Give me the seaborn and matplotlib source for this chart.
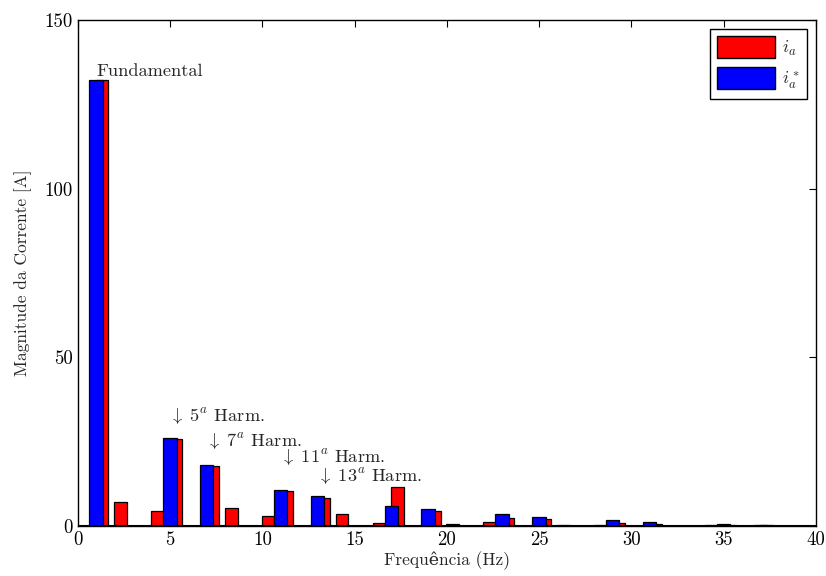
import numpy as np
import pandas as pd
import matplotlib
matplotlib.use("Agg")
import matplotlib.pyplot as plt
import seaborn as sns
from matplotlib.patches import Patch

# Harmonic order (Hz bins) and spectrum magnitudes
harmonics = list(range(1, 40))
ia = [132.1, 7.0, 0.1, 4.3, 25.7, 0.1, 17.7, 5.3, 0.1, 2.9,
      10.5, 0.1, 8.2, 3.5, 0.1, 0.9, 11.5, 0.1, 4.5, 0.6,
      0.1, 1.1, 2.3, 0.1, 2.0, 0.2, 0.1, 0.4, 0.9, 0.1,
      0.5, 0.1, 0.1, 0.2, 0.3, 0.1, 0.2, 0.1, 0.1]
ia_ref = [132.2, 0.1, 0.1, 0.1, 26.0, 0.1, 18.0, 0.1, 0.1, 0.1,
          10.8, 0.1, 8.8, 0.1, 0.1, 0.1, 5.9, 0.1, 4.9, 0.1,
          0.1, 0.1, 3.5, 0.1, 2.6, 0.1, 0.1, 0.1, 1.7, 0.1,
          1.2, 0.1, 0.1, 0.1, 0.6, 0.1, 0.2, 0.1, 0.1]

annot_text = ["Fundamental", r"$\downarrow\ 5^a$ Harm.", r"$\downarrow\ 7^a$ Harm.",
              r"$\downarrow\ 11^a$ Harm.", r"$\downarrow\ 13^a$ Harm."]
annot_x = [1.0, 4.95, 6.95, 10.95, 12.95]
annot_y = [134.8, 32.3, 25.0, 20.2, 14.5]

sns.set_style("white")
plt.rcParams["font.family"] = ["cmr10", "DejaVu Serif"]
plt.rcParams["mathtext.fontset"] = "cm"
plt.rcParams["axes.unicode_minus"] = False
plt.rcParams["axes.formatter.use_mathtext"] = True

fig = plt.figure(figsize=(8.26, 5.76), dpi=100)
ax = fig.add_axes([0.0944, 0.0868, 0.8935, 0.8785])

df_a = pd.DataFrame({"f": np.array(harmonics) + 0.31, "mag": ia})
df_r = pd.DataFrame({"f": np.array(harmonics) - 0.02, "mag": ia_ref})

sns.barplot(data=df_a, x="f", y="mag", native_scale=True, width=0.68,
            color="#ff0000", saturation=1, edgecolor="black", linewidth=0.9,
            errorbar=None, ax=ax)
sns.barplot(data=df_r, x="f", y="mag", native_scale=True, width=0.73,
            color="#0000ff", saturation=1, edgecolor="black", linewidth=0.9,
            errorbar=None, ax=ax)

ax.set_xlim(0, 40)
ax.set_ylim(0, 150)
ax.set_xticks(range(0, 41, 5))
ax.set_yticks([0, 50, 100, 150])
ax.set_xticklabels([str(v) for v in range(0, 41, 5)])
ax.set_yticklabels(["0", "50", "100", "150"])
ax.axhline(0, color="black", linewidth=1.5, zorder=5)

ax.tick_params(direction="in", top=True, right=True, length=5, width=0.8,
               labelsize=13.5, colors="black", pad=4)
for s in ax.spines.values():
    s.set_visible(True)
    s.set_color("black")
    s.set_linewidth(1.0)

ax.set_xlabel("Frequência (Hz)", fontsize=12.5, labelpad=1)
ax.set_ylabel("Magnitude da Corrente [A]", fontsize=12.5, labelpad=9)

for t, x, y in zip(annot_text, annot_x, annot_y):
    ax.text(x, y, t, ha="left", va="center", fontsize=13.2)

handles = [Patch(facecolor="#ff0000", edgecolor="black", label=r"$i_a$"),
           Patch(facecolor="#0000ff", edgecolor="black", label=r"$i_a^*$")]
leg = ax.legend(handles=handles, loc="upper right", fontsize=13,
                handlelength=3.2, handleheight=1.5, handletextpad=0.4,
                borderpad=0.4, labelspacing=0.5, fancybox=False,
                framealpha=1, edgecolor="black", borderaxespad=0.5)
leg.get_frame().set_linewidth(1.0)

fig.savefig("out.png", dpi=100)
